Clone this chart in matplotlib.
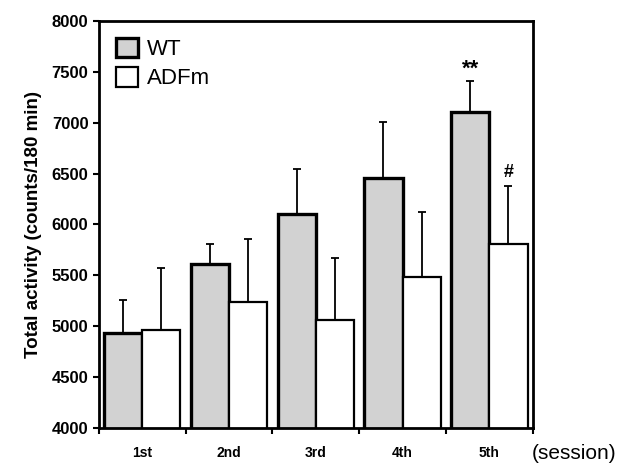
import numpy as np
import matplotlib.pyplot as plt

plt.rcParams['font.family'] = ['Liberation Sans', 'DejaVu Sans']

sessions = ['1st', '2nd', '3rd', '4th', '5th']
wt_mean = [4935, 5615, 6105, 6460, 7105]
wt_err = [325, 195, 440, 545, 300]
adf_mean = [4960, 5235, 5065, 5480, 5805]
adf_err = [610, 625, 605, 645, 575]

fig = plt.figure(figsize=(6.18, 4.69), dpi=100)
ax = fig.add_axes([0.160, 0.0874, 0.702, 0.868])

x = np.arange(len(sessions))
w = 0.44
ax.bar(x - w / 2, wt_mean, w, color='#d2d2d2', edgecolor='black', linewidth=2.4,
       yerr=[np.zeros(5), wt_err], error_kw=dict(ecolor='black', elinewidth=1.3, capsize=3, capthick=1.3),
       label='WT', zorder=2)
ax.bar(x + w / 2, adf_mean, w, color='white', edgecolor='black', linewidth=1.6,
       yerr=[np.zeros(5), adf_err], error_kw=dict(ecolor='black', elinewidth=1.3, capsize=3, capthick=1.3),
       label='ADFm', zorder=2)

# significance marks
ax.text(x[4] - w / 2, wt_mean[4] + wt_err[4] + 20, '**', ha='center', va='bottom',
        fontsize=16, fontweight='bold')
ax.text(x[4] + w / 2, adf_mean[4] + adf_err[4] + 50, '#', ha='center', va='bottom',
        fontsize=13, fontweight='bold')

ax.set_ylim(4000, 8000)
ax.set_xlim(-0.5, 4.5)
ax.set_yticks(np.arange(4000, 8001, 500))
ax.set_xticks(np.arange(-0.5, 4.6, 1.0))
ax.set_xticklabels([])
ax.set_xticks(x, minor=True)
ax.set_xticklabels(sessions, minor=True, fontsize=10, fontweight='bold')
ax.tick_params(axis='x', which='minor', length=0, pad=13)
ax.tick_params(axis='x', which='major', direction='out', length=4, width=1.5)
ax.tick_params(axis='y', direction='out', length=4, width=1.5, labelsize=12)
for lab in ax.get_yticklabels():
    lab.set_fontweight('bold')
for s in ax.spines.values():
    s.set_linewidth(2)

ax.set_ylabel('Total activity (counts/180 min)', fontsize=13.5, fontweight='bold', labelpad=7)
fig.text(0.997, 0.013, '(session)', ha='right', va='bottom', fontsize=15)

ax.legend(loc='upper left', frameon=False, fontsize=16, handlelength=1.0, handleheight=1.0,
          handletextpad=0.4, borderaxespad=0.35, labelspacing=0.3)

fig.savefig('out.png', dpi=100)
